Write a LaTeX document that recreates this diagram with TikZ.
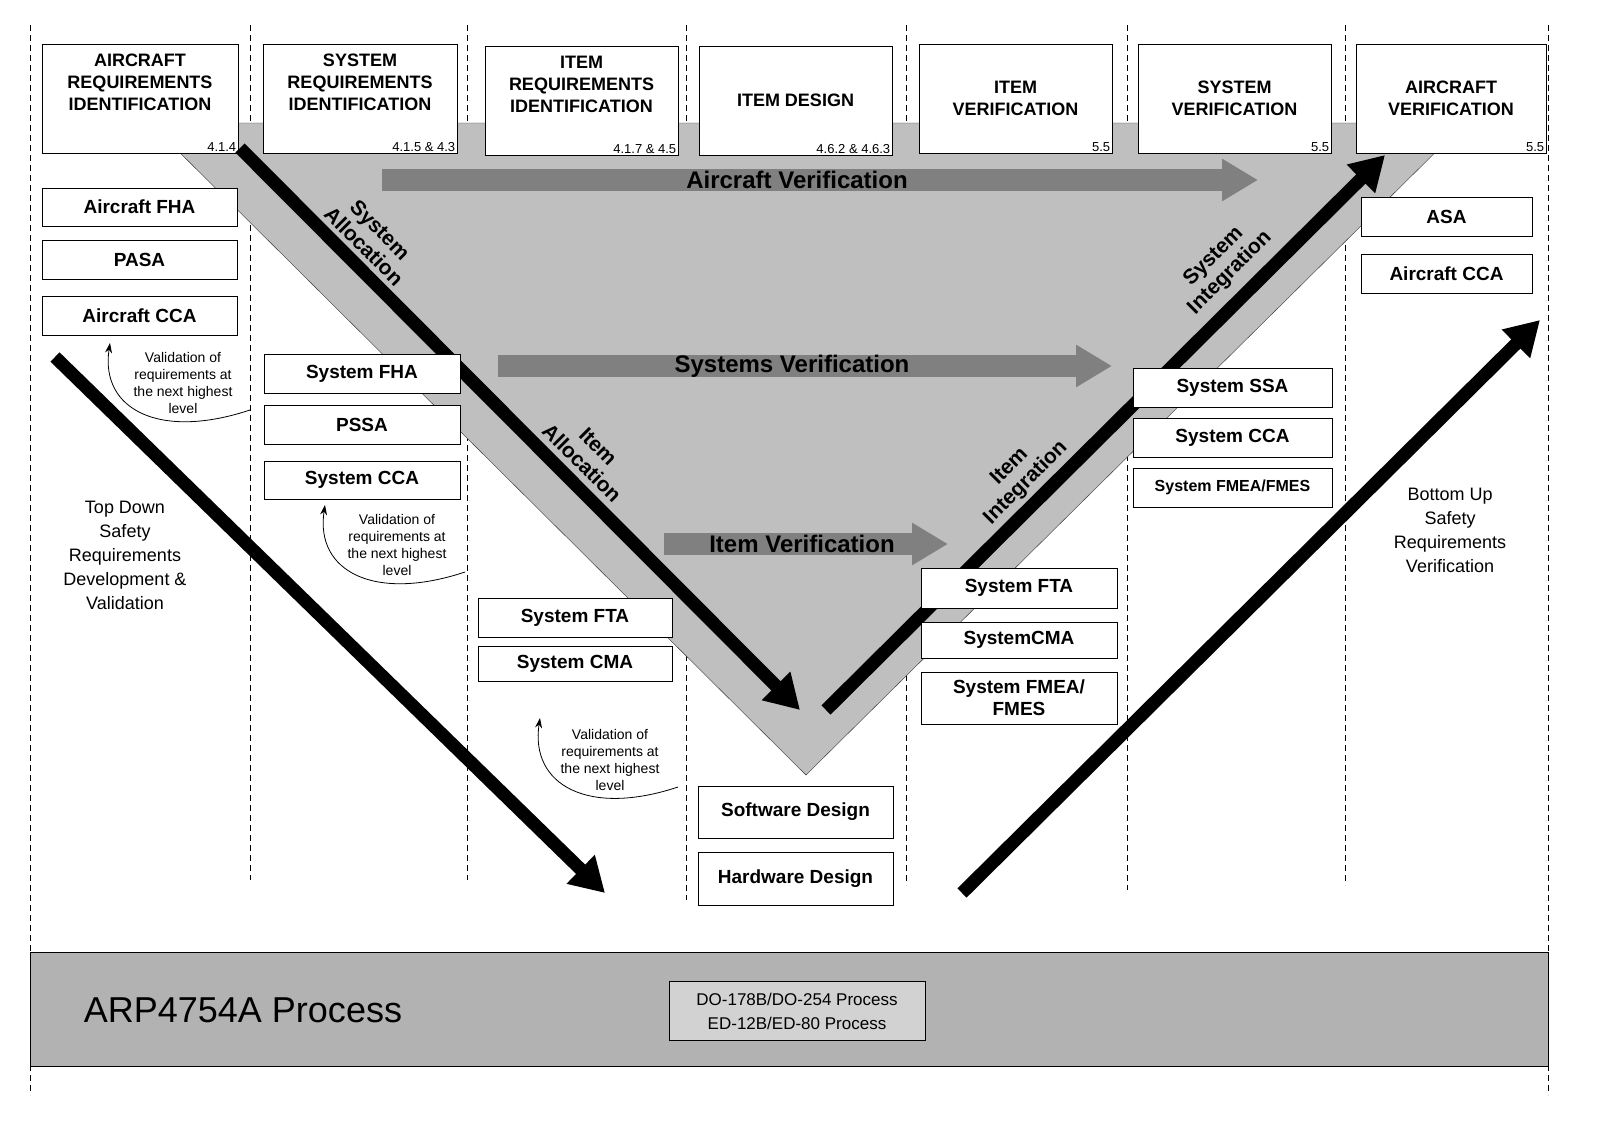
\documentclass[tikz,border=0pt]{standalone}
\usepackage{fontspec}
\setmainfont{Liberation Sans}
\usetikzlibrary{arrows.meta}
\begin{document}
\begin{tikzpicture}[x=1pt,y=-1pt,
 hbox/.style={draw,thick,fill=white,align=center,font=\fontsize{18}{22}\selectfont\bfseries,inner sep=0},
 sbox/.style={draw,thick,fill=white,font=\fontsize{19}{22}\selectfont\bfseries,inner sep=0},
 ref/.style={font=\fontsize{13}{14}\selectfont,anchor=south east,inner sep=2},
 vline/.style={dashed,thick,dash pattern=on 6pt off 4pt},
 garrow/.style={gray,line width=22pt,-{Triangle[length=36pt,width=40pt]}},
 barrow/.style={black,line width=13pt,-{Triangle[length=34pt,width=38pt]}},
 vlab/.style={font=\fontsize{21}{23}\selectfont\bfseries,align=center},
 small/.style={font=\fontsize{14}{17}\selectfont,align=center},
 varrow/.style={thick,-{Stealth[length=10pt,width=7pt]}}]
\useasboundingbox (0,0) rectangle (1600,1135);
% band
\draw[fill=gray!60] (30,952) rectangle (1548,1066);
\node[font=\fontsize{36}{40}\selectfont] (arp) at (243,1010) {ARP4754A Process};
\node[draw,fill=gray!35,minimum width=256pt,minimum height=59pt,align=center,font=\fontsize{17}{24}\selectfont] (do) at (797,1011) {DO-178B/DO-254 Process\\ED-12B/ED-80 Process};
% dashed lines
\foreach \x/\b in {30/1095,250/880,467/880,686/900,906/885,1127/890,1345/885,1548/1095}
 \draw[vline] (\x,25) -- (\x,\b);
% V
\draw[fill=gray!50,draw=gray!40!black] (150,123) -- (1465,123) -- (806,775) -- cycle;
% gray arrows
\draw[garrow] (382,180) -- (1258,180);
\draw[garrow] (498,366) -- (1112,366);
\draw[garrow] (664,544) -- (948,544);
\node[vlab,font=\fontsize{24}{26}\selectfont\bfseries] at (797,180) {Aircraft Verification};
\node[vlab,font=\fontsize{24}{26}\selectfont\bfseries] at (792,366) {Systems Verification};
\node[vlab,font=\fontsize{24}{26}\selectfont\bfseries] at (802,544) {Item Verification};
% headers
\node[hbox,minimum width=196pt,minimum height=109pt] (h1) at (140,98.5) {AIRCRAFT\\REQUIREMENTS\\IDENTIFICATION\\[10pt]};
\node[hbox,minimum width=194pt,minimum height=109pt] (h2) at (360,98.5) {SYSTEM\\REQUIREMENTS\\IDENTIFICATION\\[10pt]};
\node[hbox,minimum width=193pt,minimum height=109pt] (h3) at (581.5,100.5) {ITEM\\REQUIREMENTS\\IDENTIFICATION\\[10pt]};
\node[hbox,minimum width=193pt,minimum height=109pt] (h4) at (795.5,100.5) {ITEM DESIGN};
\node[hbox,minimum width=193pt,minimum height=109pt] (h5) at (1015.5,98.5) {ITEM\\VERIFICATION};
\node[hbox,minimum width=193pt,minimum height=109pt] (h6) at (1234.5,98.5) {SYSTEM\\VERIFICATION};
\node[hbox,minimum width=190pt,minimum height=109pt] (h7) at (1451,98.5) {AIRCRAFT\\VERIFICATION};
\node[ref] at (h1.south east) {4.1.4};
\node[ref] at (h2.south east) {4.1.5 \& 4.3};
\node[ref] at (h3.south east) {4.1.7 \& 4.5};
\node[ref] at (h4.south east) {4.6.2 \& 4.6.3};
\node[ref] at (h5.south east) {5.5};
\node[ref] at (h6.south east) {5.5};
\node[ref] at (h7.south east) {5.5};
% black arrows
\coordinate (a1) at (240,148); \coordinate (a2) at (800,710);
\coordinate (b1) at (826,710); \coordinate (b2) at (1385,155);
\coordinate (c1) at (55,357); \coordinate (c2) at (605,893);
\coordinate (d1) at (962,893); \coordinate (d2) at (1540,320);
\draw[barrow] (a1) -- (a2);
\draw[barrow] (b1) -- (b2);
\draw[barrow] (c1) -- (c2);
\draw[barrow] (d1) -- (d2);
\node[vlab,rotate=-45] at (372,238) {System\\Allocation};
\node[vlab,rotate=-45] at (590,455) {Item\\Allocation};
\node[vlab,rotate=45] at (1222,265) {System\\Integration};
\node[vlab,rotate=45] at (1018,475) {Item\\Integration};
% boxes
\node[sbox,minimum width=195pt,minimum height=38pt] (afha) at (139.5,207) {Aircraft FHA};
\node[sbox,minimum width=195pt,minimum height=39pt] (pasa) at (139.5,259.5) {PASA};
\node[sbox,minimum width=195pt,minimum height=39pt] (acca) at (139.5,315.5) {Aircraft CCA};
\node[sbox,minimum width=196pt,minimum height=39pt] (sfha) at (362,373.5) {System FHA};
\node[sbox,minimum width=196pt,minimum height=39pt] (pssa) at (362,424.5) {PSSA};
\node[sbox,minimum width=196pt,minimum height=38pt] (scca) at (362,480) {System CCA};
\node[sbox,minimum width=194pt,minimum height=39pt] (sfta) at (575,617.5) {System FTA};
\node[sbox,minimum width=194pt,minimum height=35pt] (scma) at (575,663.5) {System CMA};
\node[sbox,minimum width=195pt,minimum height=52pt] (swd) at (795.5,812) {Software Design};
\node[sbox,minimum width=195pt,minimum height=53pt] (hwd) at (795.5,878.5) {Hardware Design};
\node[sbox,minimum width=196pt,minimum height=40pt] (sfta2) at (1019,588) {System FTA};
\node[sbox,minimum width=196pt,minimum height=36pt] (scma2) at (1019,640) {SystemCMA};
\node[sbox,minimum width=196pt,minimum height=52pt,align=center] (sfm2) at (1019,698) {System FMEA/\\FMES};
\node[sbox,minimum width=199pt,minimum height=39pt] (sssa) at (1232.5,387.5) {System SSA};
\node[sbox,minimum width=199pt,minimum height=39pt] (scca2) at (1232.5,437.5) {System CCA};
\node[sbox,minimum width=199pt,minimum height=39pt,font=\fontsize{16}{18}\selectfont\bfseries] (sfm3) at (1232.5,487.5) {System FMEA/FMES};
\node[sbox,minimum width=171pt,minimum height=39pt] (asa) at (1446.5,216.5) {ASA};
\node[sbox,minimum width=171pt,minimum height=39pt] (acca2) at (1446.5,273.5) {Aircraft CCA};
% validation
\node[small] (v1) at (183,383) {Validation of\\requirements at\\the next highest\\level};
\node[small] (v2) at (397,545) {Validation of\\requirements at\\the next highest\\level};
\node[small] (v3) at (610,760) {Validation of\\requirements at\\the next highest\\level};
\coordinate (v1s) at (250,410); \coordinate (v1e) at (110,343);
\coordinate (v2s) at (465,572); \coordinate (v2e) at (325,505);
\coordinate (v3s) at (678,787); \coordinate (v3e) at (540,718);
\draw[varrow] (v1s) .. controls (160,440) and (100,410) .. (v1e);
\draw[varrow] (v2s) .. controls (375,602) and (315,572) .. (v2e);
\draw[varrow] (v3s) .. controls (588,817) and (530,785) .. (v3e);
\node[font=\fontsize{18}{24}\selectfont,align=center] (td) at (125,555) {Top Down\\Safety\\Requirements\\Development \&\\Validation};
\node[font=\fontsize{18}{24}\selectfont,align=center] (bu) at (1450,530) {Bottom Up\\Safety\\Requirements\\Verification};
\end{tikzpicture}
\end{document}
